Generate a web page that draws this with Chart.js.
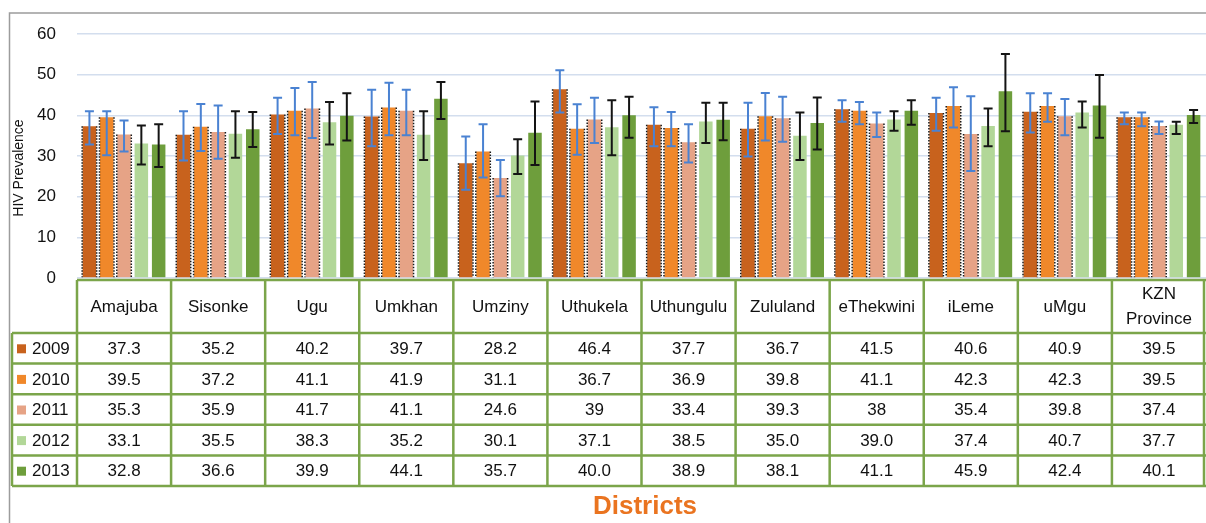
<!DOCTYPE html>
<html>
<head>
<meta charset="utf-8">
<script src="https://cdn.jsdelivr.net/npm/chart.js@4.4.1/dist/chart.umd.min.js"></script>
<style>
  html, body { margin: 0; padding: 0; background: #fff; overflow: hidden; }
  #wrap { position: relative; width: 1206px; height: 523px; }
</style>
</head>
<body>
<div id="wrap"><canvas id="c" width="1206" height="523"></canvas></div>
<script>
// HIV prevalence by district, KwaZulu-Natal, 2009-2013
const districts = ['Amajuba', 'Sisonke', 'Ugu', 'Umkhan', 'Umziny', 'Uthukela', 'Uthungulu',
  'Zululand', 'eThekwini', 'iLeme', 'uMgu', ['KZN', 'Province']];
const years = ['2009', '2010', '2011', '2012', '2013'];

const prev2009 = [37.3, 35.2, 40.2, 39.7, 28.2, 46.4, 37.7, 36.7, 41.5, 40.6, 40.9, 39.5];
const prev2010 = [39.5, 37.2, 41.1, 41.9, 31.1, 36.7, 36.9, 39.8, 41.1, 42.3, 42.3, 39.5];
const prev2011 = [35.3, 35.9, 41.7, 41.1, 24.6, 39, 33.4, 39.3, 38, 35.4, 39.8, 37.4];
const prev2012 = [33.1, 35.5, 38.3, 35.2, 30.1, 37.1, 38.5, 35.0, 39.0, 37.4, 40.7, 37.7];
const prev2013 = [32.8, 36.6, 39.9, 44.1, 35.7, 40.0, 38.9, 38.1, 41.1, 45.9, 42.4, 40.1];

// 95% confidence limits
const low2009  = [32.8, 28.9, 35.4, 32.4, 21.7, 40.7, 32.4, 29.9, 38.4, 36.2, 35.8, 37.8];
const high2009 = [41.0, 41.0, 44.3, 46.3, 34.8, 51.1, 42.0, 43.1, 43.7, 44.3, 45.4, 40.7];
const low2010  = [30.2, 31.2, 35.1, 35.1, 24.7, 30.3, 32.4, 33.8, 37.8, 37.0, 38.4, 37.3];
const high2010 = [41.0, 42.8, 46.7, 48.0, 37.8, 42.7, 40.8, 45.5, 43.3, 46.9, 45.4, 40.7];
const low2011  = [31.1, 29.3, 34.4, 35.1, 20.1, 33.2, 28.4, 33.5, 34.7, 26.3, 35.1, 35.4];
const high2011 = [38.7, 42.4, 48.2, 46.3, 29.0, 44.3, 37.8, 44.6, 40.7, 44.7, 44.0, 38.5];
const low2012  = [27.9, 29.6, 32.8, 29.0, 25.6, 30.2, 33.2, 29.0, 36.2, 32.4, 37.0, 35.4];
const high2012 = [37.5, 41.0, 43.3, 41.0, 34.1, 43.7, 43.1, 40.7, 41.0, 41.7, 43.4, 38.4];
const low2013  = [27.3, 32.2, 33.8, 39.1, 27.8, 34.5, 33.9, 31.6, 37.7, 36.1, 34.5, 38.1];
const high2013 = [37.8, 40.8, 45.4, 48.2, 43.4, 44.6, 43.1, 44.4, 43.7, 55.1, 49.9, 41.3];

const yTicks = [0, 10, 20, 30, 40, 50, 60];

const seriesValues = [prev2009, prev2010, prev2011, prev2012, prev2013];
const seriesLow = [low2009, low2010, low2011, low2012, low2013];
const seriesHigh = [high2009, high2010, high2011, high2012, high2013];
const seriesColors = ['#c8621d', '#f0882a', '#e6a386', '#b2d798', '#6e9e3c'];
const errorColors = ['#4a82d2', '#4a82d2', '#4a82d2', '#141414', '#141414'];
const dottedEdge = [true, true, true, false, false];
const oneDecimal = [false, false, false, true, true];

const FONT = '"Liberation Sans", Arial, sans-serif';
const TABLE_GREEN = '#7ba54a';

// dotted black outline on the sides of the orange bars
const barEdges = {
  id: 'barEdges',
  afterDatasetsDraw(chart) {
    const ctx = chart.ctx;
    ctx.save();
    ctx.strokeStyle = '#1a1a1a';
    ctx.lineWidth = 1.5;
    ctx.setLineDash([1.5, 1.5]);
    chart.data.datasets.forEach((ds, i) => {
      if (!dottedEdge[i]) return;
      chart.getDatasetMeta(i).data.forEach(el => {
        const { x, y, base, width } = el.getProps(['x', 'y', 'base', 'width'], true);
        [x - width / 2 - 0.5, x + width / 2 + 0.5].forEach(ex => {
          ctx.beginPath();
          ctx.moveTo(ex, y);
          ctx.lineTo(ex, base);
          ctx.stroke();
        });
      });
    });
    ctx.restore();
  }
};

// confidence interval whiskers
const errorBars = {
  id: 'errorBars',
  afterDatasetsDraw(chart) {
    const ctx = chart.ctx;
    const yScale = chart.scales.y;
    ctx.save();
    ctx.lineWidth = 2;
    chart.data.datasets.forEach((ds, i) => {
      ctx.strokeStyle = errorColors[i];
      chart.getDatasetMeta(i).data.forEach((el, j) => {
        const x = el.x;
        const yl = yScale.getPixelForValue(seriesLow[i][j]);
        const yh = yScale.getPixelForValue(seriesHigh[i][j]);
        ctx.beginPath();
        ctx.moveTo(x, yl); ctx.lineTo(x, yh);
        ctx.moveTo(x - 4.5, yl); ctx.lineTo(x + 4.5, yl);
        ctx.moveTo(x - 4.5, yh); ctx.lineTo(x + 4.5, yh);
        ctx.stroke();
      });
    });
    ctx.restore();
  }
};

// frame, axis title, data table and x-axis title
const decorations = {
  id: 'decorations',
  afterDraw(chart) {
    const ctx = chart.ctx;
    const xs = chart.scales.x;
    const n = districts.length;
    const colW = (xs.right - xs.left) / n;
    const tableTop = chart.chartArea.bottom + 2;
    const headerBottom = 333;
    const rowH = 30.6;
    const rowLeft = 12;
    const tableBottom = headerBottom + rowH * years.length;

    ctx.save();
    // outer frame
    ctx.strokeStyle = '#9c9c9c';
    ctx.lineWidth = 1.5;
    ctx.beginPath();
    ctx.moveTo(9.5, 523); ctx.lineTo(9.5, 13); ctx.lineTo(1206, 13);
    ctx.stroke();

    // y-axis title
    ctx.save();
    ctx.translate(19, 168);
    ctx.rotate(-Math.PI / 2);
    ctx.fillStyle = '#111';
    ctx.font = '14px ' + FONT;
    ctx.textAlign = 'center';
    ctx.textBaseline = 'middle';
    ctx.fillText('HIV Prevalence', 0, 0);
    ctx.restore();

    // table grid
    ctx.strokeStyle = TABLE_GREEN;
    ctx.lineWidth = 2.5;
    ctx.beginPath();
    ctx.moveTo(xs.left, tableTop); ctx.lineTo(1206, tableTop);
    for (let r = 0; r <= years.length; r++) {
      const y = headerBottom + r * rowH;
      ctx.moveTo(rowLeft, y); ctx.lineTo(1206, y);
    }
    ctx.moveTo(rowLeft, headerBottom); ctx.lineTo(rowLeft, tableBottom);
    for (let i = 0; i <= n; i++) {
      const x = Math.min(xs.getPixelForValue(i) - colW / 2, 1204);
      ctx.moveTo(x, tableTop); ctx.lineTo(x, tableBottom);
    }
    ctx.stroke();

    ctx.fillStyle = '#111';
    ctx.font = '17px ' + FONT;
    ctx.textAlign = 'center';
    ctx.textBaseline = 'middle';
    // header row: district names
    districts.forEach((d, i) => {
      const cx = xs.getPixelForValue(i);
      if (Array.isArray(d)) {
        ctx.fillText(d[0], cx, 294);
        ctx.fillText(d[1], cx, 319);
      } else {
        ctx.fillText(d, cx, 307);
      }
    });
    // value rows
    years.forEach((yr, r) => {
      const cy = headerBottom + r * rowH + rowH / 2 + 1;
      ctx.fillStyle = seriesColors[r];
      ctx.fillRect(17, cy - 5, 9, 9);
      ctx.fillStyle = '#111';
      ctx.textAlign = 'left';
      ctx.fillText(yr, 32, cy);
      ctx.textAlign = 'center';
      seriesValues[r].forEach((v, i) => {
        const txt = oneDecimal[r] ? v.toFixed(1) : String(v);
        ctx.fillText(txt, xs.getPixelForValue(i), cy);
      });
    });

    // x-axis title
    ctx.fillStyle = '#ea7420';
    ctx.font = 'bold 26px ' + FONT;
    ctx.textAlign = 'center';
    ctx.textBaseline = 'middle';
    ctx.fillText('Districts', 645, 507);
    ctx.restore();
  }
};

new Chart(document.getElementById('c'), {
  type: 'bar',
  data: {
    labels: districts,
    datasets: years.map((yr, i) => ({
      label: yr,
      data: seriesValues[i],
      backgroundColor: seriesColors[i],
      borderWidth: 0,
      categoryPercentage: 0.92,
      barPercentage: 0.78
    }))
  },
  options: {
    responsive: false,
    animation: false,
    layout: { padding: { left: 0, right: 0, top: 34, bottom: 245 } },
    plugins: { legend: { display: false }, tooltip: { enabled: false } },
    scales: {
      x: { display: false },
      y: {
        min: 0,
        max: 60,
        afterBuildTicks(scale) { scale.ticks = yTicks.map(v => ({ value: v })); },
        afterFit(scale) { scale.width = 77; },
        ticks: { padding: 21, color: '#111', font: { size: 17, family: FONT } },
        grid: { color: '#d3deee', lineWidth: 1.5, drawTicks: false },
        border: { display: false }
      }
    }
  },
  plugins: [barEdges, errorBars, decorations]
});
</script>
</body>
</html>
